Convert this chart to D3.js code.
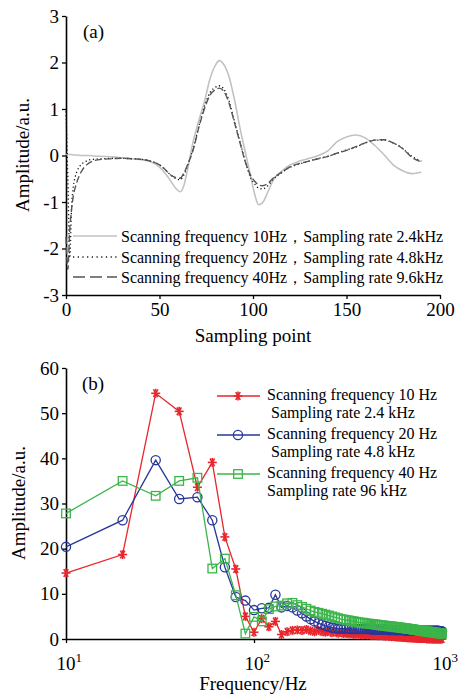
<!DOCTYPE html>
<html><head><meta charset="utf-8">
<script src="https://cdn.jsdelivr.net/npm/d3@7"></script>
<style>
html,body{margin:0;padding:0;background:#fff;}
svg{display:block;font-family:"Times New Roman","Liberation Serif",serif;}
</style></head>
<body><svg id="c" width="461" height="694"></svg>
<script>
// ---------- Panel (a) data ----------
const samplePts = [0,1,2,3,4,5,6,8,10,12,15,20,25,30,35,40,45,50,53,56,59,61,63,65,68,71,74,77,80,82,84,87,90,93,96,99,101,103,105,108,111,115,120,125,130,135,140,145,150,155,160,165,170,175,180,185,190];
const amp10Hz = [0.02,0.02,0.02,0.02,0.01,0.01,0.01,0.0,0.0,0.0,-0.01,-0.02,-0.03,-0.05,-0.07,-0.09,-0.13,-0.25,-0.38,-0.55,-0.72,-0.78,-0.65,-0.3,0.3,0.75,1.15,1.65,1.95,2.04,1.98,1.72,1.22,0.6,0.05,-0.5,-0.85,-1.06,-1.02,-0.78,-0.52,-0.35,-0.2,-0.12,-0.06,0.0,0.1,0.3,0.4,0.44,0.38,0.22,0.02,-0.2,-0.33,-0.39,-0.36];
const amp20Hz = [0.95,-0.5,-2.2,-1.1,-0.65,-0.45,-0.33,-0.2,-0.14,-0.1,-0.08,-0.07,-0.06,-0.06,-0.07,-0.08,-0.12,-0.2,-0.3,-0.42,-0.5,-0.52,-0.42,-0.22,0.15,0.62,1.05,1.35,1.47,1.5,1.45,1.2,0.75,0.3,-0.15,-0.5,-0.62,-0.7,-0.72,-0.65,-0.5,-0.38,-0.25,-0.18,-0.12,-0.06,-0.02,0.05,0.12,0.18,0.27,0.33,0.33,0.27,0.15,-0.02,-0.12];
const amp40Hz = [-1.75,-2.45,-1.6,-1.15,-0.85,-0.68,-0.55,-0.36,-0.24,-0.17,-0.11,-0.08,-0.07,-0.06,-0.07,-0.08,-0.12,-0.2,-0.3,-0.42,-0.48,-0.49,-0.38,-0.2,0.12,0.6,1.0,1.3,1.42,1.45,1.4,1.15,0.72,0.28,-0.15,-0.45,-0.56,-0.63,-0.65,-0.6,-0.48,-0.37,-0.24,-0.17,-0.12,-0.07,-0.02,0.05,0.11,0.19,0.27,0.33,0.34,0.27,0.15,-0.04,-0.14];
const aXTicks = [0,50,100,150,200];
const aYTicks = [-3,-2,-1,0,1,2,3];
const aLegend = ["Scanning frequency 10Hz，Sampling rate 2.4kHz","Scanning frequency 20Hz，Sampling rate 4.8kHz","Scanning frequency 40Hz，Sampling rate 9.6kHz"];

// ---------- Panel (b) data ----------
const freqs = [10,20,30,40,50,60,70,80,90,100,110,120,130,140,150,160,170,180,190,200,210,220,230,240,250,260,270,280,290,300,310,320,330,340,350,360,370,380,390,400,410,420,430,440,450,460,470,480,490,500,510,520,530,540,550,560,570,580,590,600,610,620,630,640,650,660,670,680,690,700,710,720,730,740,750,760,770,780,790,800,810,820,830,840,850,860,870,880,890,900,910,920,930,940,950,960,970,980,990,1000];
const spec10Hz = [14.6,18.7,54.4,50.4,33.6,39.1,22.6,15.5,5.0,1.5,
4.5,2.7,3.9,1.0,1.6,1.9,2.0,1.9,2.1,1.8,
1.6,1.9,1.6,1.5,1.7,1.4,1.6,1.3,1.5,1.2,
1.4,1.1,1.3,1.0,1.2,1.0,1.1,0.9,1.0,0.9,
1.0,0.8,0.9,0.8,0.9,0.7,0.8,0.7,0.7,0.6,
0.7,0.6,0.6,0.5,0.6,0.5,0.5,0.4,0.5,0.4,
0.4,0.4,0.3,0.4,0.3,0.3,0.3,0.2,0.3,0.2,
0.2,0.2,0.2,0.1,0.2,0.1,0.1,0.1,0.1,0.1,
0.1,0.1,0.0,0.1,0.0,0.0,0.1,0.0,0.0,0.0,
0.0,0.0,0.0,0.0,0.0,0.0,0.0,0.0,0.0,0.0];
const spec20Hz = [20.4,26.3,39.6,31.0,31.4,26.3,15.9,9.3,8.5,6.4,
6.8,6.9,9.8,7.0,7.3,7.0,6.3,5.7,5.0,4.4,
3.9,3.5,3.2,2.9,2.7,2.5,2.4,2.3,2.3,2.3,
2.3,2.3,2.2,2.2,2.2,2.2,2.2,2.2,2.2,2.2,
2.2,2.1,2.1,2.1,2.1,2.1,2.1,2.1,2.1,2.1,
2.1,2.0,2.0,2.0,2.0,2.0,2.0,2.0,2.0,2.0,
2.0,2.0,2.0,1.9,1.9,1.9,1.9,1.9,1.9,1.9,
1.9,1.9,1.9,1.9,1.9,1.9,1.9,1.8,1.8,1.8,
1.8,1.8,1.8,1.8,1.8,1.8,1.8,1.8,1.8,1.8,
1.8,1.8,1.8,1.8,1.8,1.8,1.7,1.7,1.7,1.7];
const spec40Hz = [27.8,35.0,31.7,35.0,35.7,15.6,17.8,9.7,1.2,4.9,
3.9,6.6,7.2,7.4,7.9,8.0,7.5,7.1,6.7,6.3,
6.0,5.8,5.6,5.4,5.2,5.0,4.8,4.6,4.4,4.3,
4.2,4.1,4.0,3.9,3.8,3.7,3.6,3.6,3.5,3.4,
3.4,3.3,3.3,3.2,3.2,3.1,3.1,3.0,3.0,2.9,
2.9,2.8,2.8,2.8,2.7,2.7,2.6,2.6,2.6,2.5,
2.5,2.4,2.4,2.4,2.3,2.3,2.2,2.2,2.2,2.1,
2.1,2.0,2.0,2.0,1.9,1.9,1.9,1.8,1.8,1.8,
1.7,1.7,1.7,1.6,1.6,1.6,1.5,1.5,1.5,1.5,
1.4,1.4,1.4,1.3,1.3,1.3,1.3,1.2,1.2,1.2];
const bXTicks = [10,100,1000];
const bXExp = ["1","2","3"];
const bYTicks = [0,10,20,30,40,50,60];
const bLegend = [["Scanning frequency 10 Hz"," Sampling rate 2.4 kHz"],["Scanning frequency 20 Hz"," Sampling rate 4.8 kHz"],["Scanning frequency 40 Hz","Sampling rate 96 kHz"]];

const svg = d3.select("#c");
const FS = 19;

// ================= Panel (a) =================
const xa = d3.scaleLinear().domain([0,200]).range([66,440]);
const ya = d3.scaleLinear().domain([-3,3]).range([295,16]);

const axA_y = svg.append("g").attr("transform","translate(66,0)")
  .call(d3.axisLeft(ya).tickValues(aYTicks).tickSizeInner(4).tickSizeOuter(0).tickPadding(3).tickFormat(d=>String(d)));
const axA_x = svg.append("g").attr("transform","translate(0,295)")
  .call(d3.axisBottom(xa).tickValues(aXTicks).tickSizeInner(4).tickSizeOuter(0).tickPadding(4).tickFormat(d=>String(d)));
[axA_y,axA_x].forEach(g=>{
  g.selectAll("text").attr("font-size",FS).attr("font-family","'Times New Roman','Liberation Serif',serif").attr("fill","#000");
  g.select(".domain").attr("stroke","#000").attr("stroke-width",1.6);
  g.selectAll(".tick line").attr("stroke","#000").attr("stroke-width",1.3);
});

svg.append("text").attr("x",253).attr("y",342).attr("text-anchor","middle").attr("font-size",FS).text("Sampling point");
svg.append("text").attr("transform","translate(29,155) rotate(-90)").attr("text-anchor","middle").attr("font-size",FS).text("Amplitude/a.u.");
svg.append("text").attr("x",83).attr("y",38).attr("font-size",FS).text("(a)");

const lineA = (vals)=> d3.line().x((d,i)=>xa(samplePts[i])).y(d=>ya(d)).curve(d3.curveMonotoneX)(vals);
const aStyles = [
  {vals:amp10Hz, stroke:"#c2c2c2", w:1.6, dash:null},
  {vals:amp20Hz, stroke:"#111", w:1.3, dash:"1.2,2.6"},
  {vals:amp40Hz, stroke:"#555", w:1.4, dash:"7,3"}
];
aStyles.forEach(s=>{
  svg.append("path").attr("d",lineA(s.vals)).attr("fill","none").attr("stroke",s.stroke)
    .attr("stroke-width",s.w).attr("stroke-dasharray",s.dash);
});
const aLegY = [236,257,277];
aLegend.forEach((t,i)=>{
  const s = aStyles[i];
  svg.append("line").attr("x1",73).attr("x2",117).attr("y1",aLegY[i]).attr("y2",aLegY[i])
    .attr("stroke",s.stroke).attr("stroke-width",s.w).attr("stroke-dasharray",i===2?"12,5":(i===1?"1.2,3.5":null));
  svg.append("text").attr("x",121).attr("y",aLegY[i]+5.5).attr("font-size",16).text(t);
});

// ================= Panel (b) =================
const xb = d3.scaleLog().domain([10,1000]).range([66,442]);
const yb = d3.scaleLinear().domain([0,60]).range([639,368]);

const axB_y = svg.append("g").attr("transform","translate(66,0)")
  .call(d3.axisLeft(yb).tickValues(bYTicks).tickSizeInner(4).tickSizeOuter(0).tickPadding(3).tickFormat(d=>String(d)));
const axB_x = svg.append("g").attr("transform","translate(0,639)")
  .call(d3.axisBottom(xb).tickValues(bXTicks).tickSizeInner(4).tickSizeOuter(0).tickPadding(8).tickFormat(""));
[axB_y,axB_x].forEach(g=>{
  g.selectAll("text").attr("font-size",FS).attr("font-family","'Times New Roman','Liberation Serif',serif").attr("fill","#000");
  g.select(".domain").attr("stroke","#000").attr("stroke-width",1.6);
  g.selectAll(".tick line").attr("stroke","#000").attr("stroke-width",1.3);
});
bXTicks.forEach((v,i)=>{
  const t = svg.append("text").attr("x",xb(v)-9.5).attr("y",670).attr("font-size",FS);
  t.append("tspan").text("10");
  t.append("tspan").attr("font-size",13).attr("dy",-8).text(bXExp[i]);
});
svg.append("text").attr("x",253).attr("y",690).attr("text-anchor","middle").attr("font-size",FS).text("Frequency/Hz");
svg.append("text").attr("transform","translate(25,503) rotate(-90)").attr("text-anchor","middle").attr("font-size",FS).text("Amplitude/a.u.");
svg.append("text").attr("x",82).attr("y",390).attr("font-size",FS).text("(b)");

const bSeries = [
  {vals:spec10Hz, color:"#e8262c", sym:"star"},
  {vals:spec20Hz, color:"#27379a", sym:"circle"},
  {vals:spec40Hz, color:"#3bb54a", sym:"square"}
];
function drawMarker(g, sym, x, y, color){
  if(sym==="circle"){
    g.append("circle").attr("cx",x).attr("cy",y).attr("r",4.6).attr("fill","none").attr("stroke",color).attr("stroke-width",1.3);
  } else if(sym==="square"){
    g.append("rect").attr("x",x-4.3).attr("y",y-4.3).attr("width",8.6).attr("height",8.6).attr("fill","none").attr("stroke",color).attr("stroke-width",1.3);
  } else {
    const r=4.5;
    [0,60,120,90].forEach(a=>{
      const rad=a*Math.PI/180;
      g.append("line").attr("x1",x-r*Math.cos(rad)).attr("y1",y-r*Math.sin(rad))
        .attr("x2",x+r*Math.cos(rad)).attr("y2",y+r*Math.sin(rad)).attr("stroke",color).attr("stroke-width",1.6);
    });
  }
}
const lineB = d3.line().x((d,i)=>xb(freqs[i])).y(d=>yb(d));
bSeries.forEach(s=>{
  svg.append("path").attr("d",lineB(s.vals)).attr("fill","none").attr("stroke",s.color).attr("stroke-width",1.3);
  const g = svg.append("g");
  s.vals.forEach((v,i)=>drawMarker(g,s.sym,xb(freqs[i]),yb(v),s.color));
});
const bLegY = [396,435,474];
bLegend.forEach((lines,i)=>{
  const s=bSeries[i];
  svg.append("line").attr("x1",217).attr("x2",260).attr("y1",bLegY[i]).attr("y2",bLegY[i]).attr("stroke",s.color).attr("stroke-width",1.3);
  drawMarker(svg.append("g"),s.sym,238,bLegY[i],s.color);
  svg.append("text").attr("x",267).attr("y",bLegY[i]+4).attr("font-size",16).text(lines[0]);
  svg.append("text").attr("x",267).attr("y",bLegY[i]+22).attr("font-size",16).attr("xml:space","preserve").style("white-space","pre").text(lines[1]);
});
</script></body></html>
